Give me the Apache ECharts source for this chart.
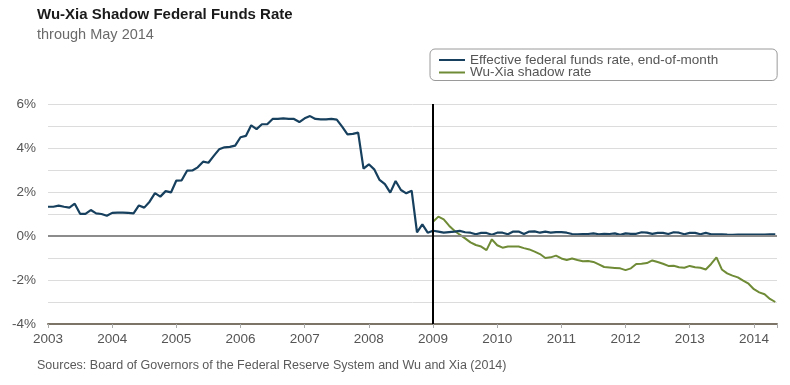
<!DOCTYPE html>
<html><head><meta charset="utf-8">
<script src="https://cdn.jsdelivr.net/npm/echarts@6/dist/echarts.min.js"></script>
<style>html,body{margin:0;padding:0;background:#fff}#c{width:790px;height:385px}</style>
</head><body><div id="c"></div>
<script>
// Effective federal funds rate, end-of-month, Jan 2003 - May 2014 (%)
const fedFunds = [
  1.33,1.33,1.38,1.33,1.29,1.47,1.01,1.01,1.18,1.03,1.00,0.92,
  1.05,1.06,1.06,1.05,1.03,1.39,1.29,1.56,1.95,1.79,2.04,1.98,
  2.52,2.53,2.97,2.98,3.12,3.38,3.33,3.64,3.94,4.03,4.05,4.11,
  4.49,4.55,5.03,4.86,5.08,5.08,5.32,5.32,5.35,5.32,5.32,5.18,
  5.35,5.45,5.32,5.30,5.30,5.32,5.29,4.97,4.62,4.64,4.70,3.06,
  3.26,3.03,2.55,2.36,1.97,2.50,2.09,1.94,2.06,0.17,0.53,0.15,
  0.24,0.20,0.15,0.18,0.20,0.23,0.17,0.15,0.08,0.14,0.14,0.06,
  0.15,0.15,0.08,0.20,0.20,0.09,0.20,0.21,0.15,0.20,0.15,0.18,
  0.18,0.15,0.09,0.08,0.09,0.09,0.12,0.08,0.10,0.09,0.12,0.05,
  0.12,0.10,0.10,0.17,0.15,0.10,0.14,0.14,0.09,0.17,0.15,0.08,
  0.14,0.14,0.08,0.14,0.08,0.08,0.08,0.06,0.05,0.06,0.06,0.06,
  0.06,0.06,0.06,0.08,0.08
];
// Wu-Xia shadow rate, Jan 2009 - May 2014 (%)
const shadowRate = [
  0.65,0.88,0.76,0.47,0.24,0.06,-0.11,-0.29,-0.41,-0.48,-0.64,-0.15,
  -0.42,-0.53,-0.48,-0.48,-0.48,-0.55,-0.61,-0.71,-0.82,-1.00,-0.97,-0.89,
  -1.02,-1.09,-1.02,-1.09,-1.15,-1.14,-1.18,-1.29,-1.41,-1.43,-1.45,-1.47,
  -1.55,-1.47,-1.27,-1.26,-1.23,-1.11,-1.18,-1.26,-1.36,-1.35,-1.42,-1.44,
  -1.36,-1.42,-1.44,-1.52,-1.27,-0.97,-1.52,-1.70,-1.80,-1.88,-2.03,-2.17,
  -2.42,-2.56,-2.65,-2.86,-3.00
];
const fedStartYear = 2003;
const shadowStartYear = 2009;
const yTickLabels = [-4,-2,0,2,4,6];
const xTickLabels = [2003,2004,2005,2006,2007,2008,2009,2010,2011,2012,2013,2014];
const seriesNames = ['Effective federal funds rate, end-of-month','Wu-Xia shadow rate'];

const toPairs = (arr, start) => arr.map((v, i) => [start + i / 12, v]);
const FONT = 'Liberation Sans, Arial, sans-serif';

const chart = echarts.init(document.getElementById('c'), null, {renderer: 'canvas'});
chart.setOption({
  animation: false,
  backgroundColor: '#fff',
  textStyle: {fontFamily: FONT},
  title: [
    {text: 'Wu-Xia Shadow Federal Funds Rate', subtext: 'through May 2014',
     left: 37, top: 7, padding: 0, itemGap: 5,
     textStyle: {fontSize: 15, fontWeight: 'bold', color: '#1a1a1a', fontFamily: FONT},
     subtextStyle: {fontSize: 14.5, color: '#6a6a6a', fontFamily: FONT}},
    {text: 'Sources: Board of Governors of the Federal Reserve System and Wu and Xia (2014)',
     left: 37, top: 359, padding: 0,
     textStyle: {fontSize: 12.5, fontWeight: 'normal', color: '#5a5a5a', fontFamily: FONT}}
  ],
  legend: {
    left: 430, top: 49, orient: 'vertical', itemGap: -1.5,
    padding: [4, 59, 1, 9],
    borderColor: '#9a9a9a', borderWidth: 1, borderRadius: 5,
    icon: 'rect', itemWidth: 26, itemHeight: 2,
    textStyle: {fontSize: 13.5, color: '#555', lineHeight: 12, fontFamily: FONT},
    data: seriesNames
  },
  grid: {left: 48, right: 13, top: 104, bottom: 61, containLabel: false},
  xAxis: {
    type: 'value', min: xTickLabels[0], max: 2014.36, interval: 1,
    axisLine: {onZero: false, lineStyle: {color: '#7d7468', width: 2}},
    axisTick: {show: true, length: 4, lineStyle: {color: '#aaa'}},
    axisLabel: {fontSize: 13.5, color: '#555', margin: 8, formatter: v => xTickLabels.includes(v) ? String(v) : ''},
    splitLine: {show: false}
  },
  yAxis: {
    type: 'value', min: yTickLabels[0], max: yTickLabels[yTickLabels.length - 1], interval: 1,
    axisLine: {show: false}, axisTick: {show: false},
    axisLabel: {fontSize: 13.5, color: '#555', margin: 12, formatter: v => yTickLabels.includes(v) ? v + '%' : ''},
    splitLine: {show: true, lineStyle: {color: '#dcdcdc', width: 1}}
  },
  series: [
    {name: seriesNames[1], type: 'line', z: 2, showSymbol: false, symbol: 'none',
     data: toPairs(shadowRate, shadowStartYear),
     lineStyle: {color: '#6f8b36', width: 2}, itemStyle: {color: '#6f8b36'},
     markLine: {silent: true, symbol: 'none', label: {show: false},
       lineStyle: {color: '#8c8c8c', width: 2, type: 'solid'},
       data: [{yAxis: 0}]}},
    {name: seriesNames[0], type: 'line', z: 3, showSymbol: false, symbol: 'none',
     data: toPairs(fedFunds, fedStartYear),
     lineStyle: {color: '#17405e', width: 2.2}, itemStyle: {color: '#17405e'},
     markLine: {silent: true, symbol: 'none', label: {show: false},
       lineStyle: {color: '#000', width: 2, type: 'solid'},
       data: [{xAxis: shadowStartYear}]}}
  ]
});
</script></body></html>
